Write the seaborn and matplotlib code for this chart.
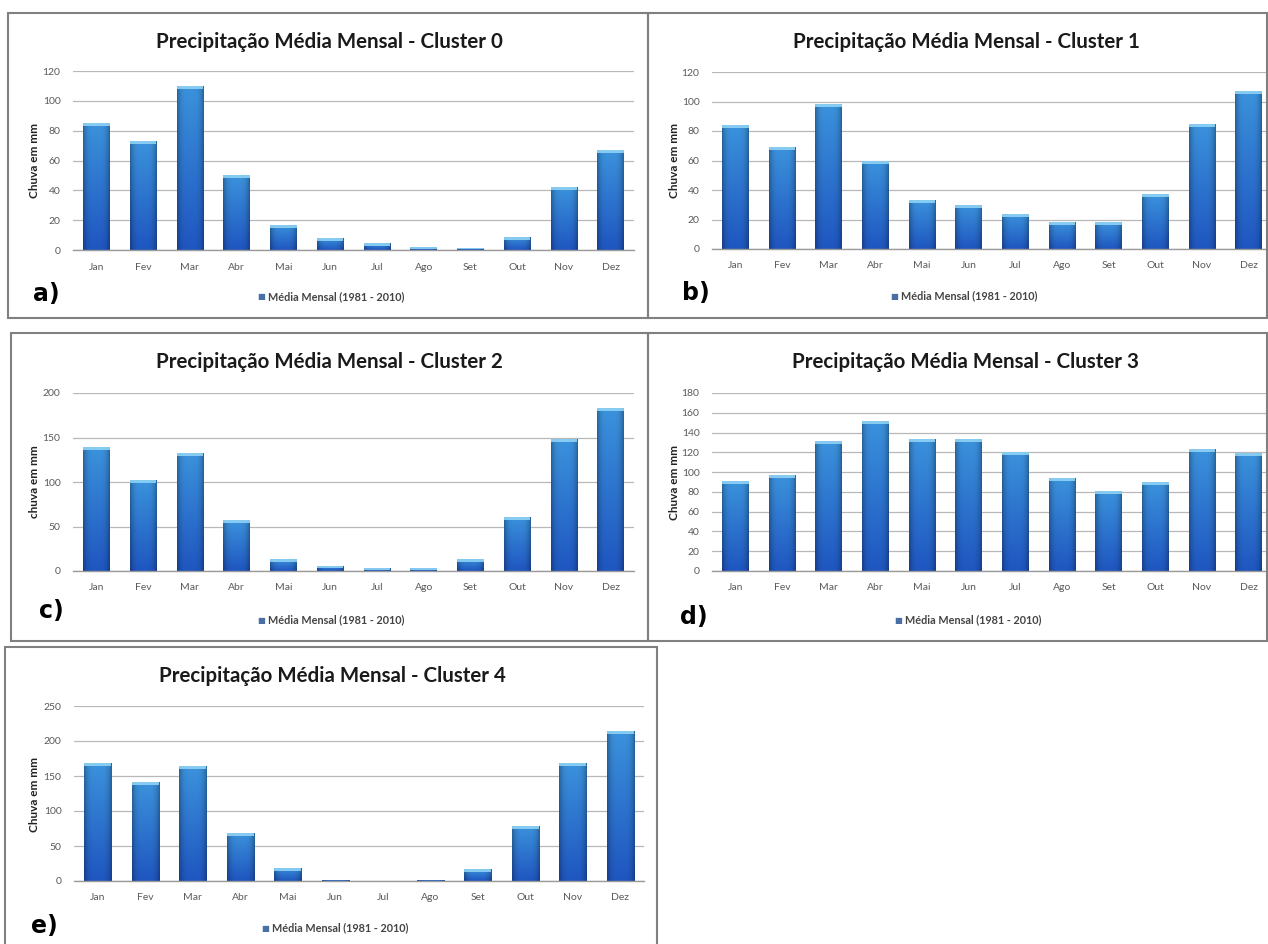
import numpy as np
import matplotlib
matplotlib.use("Agg")
import matplotlib.pyplot as plt
import seaborn as sns
from matplotlib.patches import Rectangle
from matplotlib.colors import to_rgb

# Monthly mean rainfall (mm), 1981-2010, per cluster
meses = ["Jan", "Fev", "Mar", "Abr", "Mai", "Jun", "Jul", "Ago", "Set", "Out", "Nov", "Dez"]
cluster0 = [85, 73, 110, 50, 17, 8, 5, 2, 1.5, 9, 42, 67]
cluster1 = [84, 69, 98, 60, 33, 30, 24, 18, 18, 37, 85, 107]
cluster2 = [139, 102, 133, 57, 13, 6, 3, 3, 14, 61, 148, 183]
cluster3 = [91, 97, 131, 152, 133, 133, 120, 94, 81, 90, 123, 119]
cluster4 = [169, 141, 164, 69, 19, 2, 0.5, 2, 17, 79, 169, 215]

titulos = [f"Precipitação Média Mensal - Cluster {i}" for i in range(5)]
rotulos_y = ["Chuva em mm", "Chuva em mm", "chuva em mm", "Chuva em mm", "Chuva em mm"]
letras = ["a)", "b)", "c)", "d)", "e)"]
ticks_y = [np.arange(0, 121, 20), np.arange(0, 121, 20), np.arange(0, 201, 50),
           np.arange(0, 181, 20), np.arange(0, 251, 50)]
legenda = "Média Mensal (1981 - 2010)"

sns.set_theme(style="white")
plt.rcParams["font.family"] = ["Lato", "DejaVu Sans"]

W, H = 1268, 944
fig = plt.figure(figsize=(W / 100, H / 100), dpi=100)
fig.patch.set_facecolor("white")


def fx(x):
    return x / W


def fy(y):
    return 1 - y / H


# layout of every panel in pixels: frame box, axes box, title, legend, letter, ylabel
paineis = [
    dict(frame=(8, 13, 648, 318), ax=(73, 71, 634, 250), title=(329, 42), leg=(331, 297), letra=(46, 294), ylab=(35, 160)),
    dict(frame=(648, 13, 1267, 318), ax=(712, 72, 1272, 249), title=(966, 42), leg=(964, 296), letra=(696, 293), ylab=(674, 160)),
    dict(frame=(11, 333, 648, 641), ax=(73, 393, 634, 571), title=(329, 362), leg=(331, 620), letra=(51, 611), ylab=(35, 482)),
    dict(frame=(648, 333, 1267, 641), ax=(712, 393, 1272, 571), title=(966, 362), leg=(968, 620), letra=(694, 617), ylab=(674, 482)),
    dict(frame=(5, 647, 657, 946), ax=(74, 706, 644, 881), title=(332, 676), leg=(335, 928), letra=(44, 926), ylab=(34, 794)),
]
dados = [cluster0, cluster1, cluster2, cluster3, cluster4]

base = "#2a6fd2"
c_bottom = np.array(to_rgb("#1f56c0"))
c_top = np.array(to_rgb("#3b92dc"))
c_cap = "#8fd2f4"


def gradiente():
    ny, nx = 64, 32
    t = np.linspace(0, 1, ny)[:, None]
    u = np.linspace(0, 1, nx)[None, :]
    col = c_bottom[None, None, :] * (1 - t[..., None]) + c_top[None, None, :] * t[..., None]
    d = np.abs(u - 0.5) * 2
    shade = 1 - 0.30 * d ** 4
    return np.clip(col * shade[..., None], 0, 1)


img = gradiente()

for p, vals, tit, ylab, letra, yt in zip(paineis, dados, titulos, rotulos_y, letras, ticks_y):
    x0, y0, x1, y1 = p["frame"]
    fig.add_artist(Rectangle((fx(x0), fy(y1)), fx(x1 - x0), (y1 - y0) / H,
                             transform=fig.transFigure, fill=False,
                             edgecolor="#808080", linewidth=1.5))
    a0, b0, a1, b1 = p["ax"]
    ax = fig.add_axes([fx(a0), fy(b1), fx(a1 - a0), (b1 - b0) / H])
    ax.set_facecolor("none")
    sns.barplot(x=meses, y=vals, ax=ax, color=base, saturation=1, width=0.57,
                edgecolor="none")
    ymax = yt[-1]
    ax_h_px = b1 - b0
    cap = 3.0 * ymax / ax_h_px
    for bar in list(ax.patches):
        bx, bw, bh = bar.get_x(), bar.get_width(), bar.get_height()
        if bh <= 0:
            continue
        im = ax.imshow(img, extent=(bx, bx + bw, 0, bh), origin="lower",
                       aspect="auto", zorder=2.5, interpolation="bilinear")
        im.set_clip_path(bar)
        ch = min(cap, bh * 0.5)
        ax.add_patch(Rectangle((bx, bh - ch), bw, ch, facecolor=c_cap,
                               edgecolor="none", zorder=2.6, alpha=0.9))
    ax.set_xlim(-0.5, len(meses) - 0.5)
    ax.set_ylim(0, ymax)
    ax.set_yticks(yt)
    ax.yaxis.grid(True, color="#b8b8b8", linewidth=0.9)
    ax.set_axisbelow(True)
    for s in ["top", "right", "left"]:
        ax.spines[s].set_visible(False)
    ax.spines["bottom"].set_color("#9a9a9a")
    ax.spines["bottom"].set_linewidth(1.0)
    ax.tick_params(axis="both", length=0, labelsize=7.5, colors="#5a5a5a")
    ax.tick_params(axis="x", pad=9)
    ax.tick_params(axis="y", pad=9)
    ax.set_xlabel("")
    ax.set_ylabel("")

    tx, ty = p["title"]
    fig.text(fx(tx), fy(ty), tit, ha="center", va="center", fontsize=14.8,
             fontweight="bold", color="#1a1a1a")
    lx, ly = p["ylab"]
    fig.text(fx(lx), fy(ly), ylab, ha="center", va="center", rotation=90,
             fontsize=8.5, fontweight="bold", color="#222222")
    gx, gy = p["leg"]
    fig.text(fx(gx) + 0.004, fy(gy), legenda, ha="center", va="center",
             fontsize=7.8, fontweight="bold", color="#444444")
    fig.text(fx(gx) - 0.055, fy(gy), "■", ha="center", va="center",
             fontsize=6, color="#4a6fa5", family="DejaVu Sans")
    kx, ky = p["letra"]
    fig.text(fx(kx), fy(ky), letra, ha="center", va="center", fontsize=17,
             fontweight="heavy", color="black", family="DejaVu Sans")

fig.savefig("out.png", dpi=100, facecolor="white")
